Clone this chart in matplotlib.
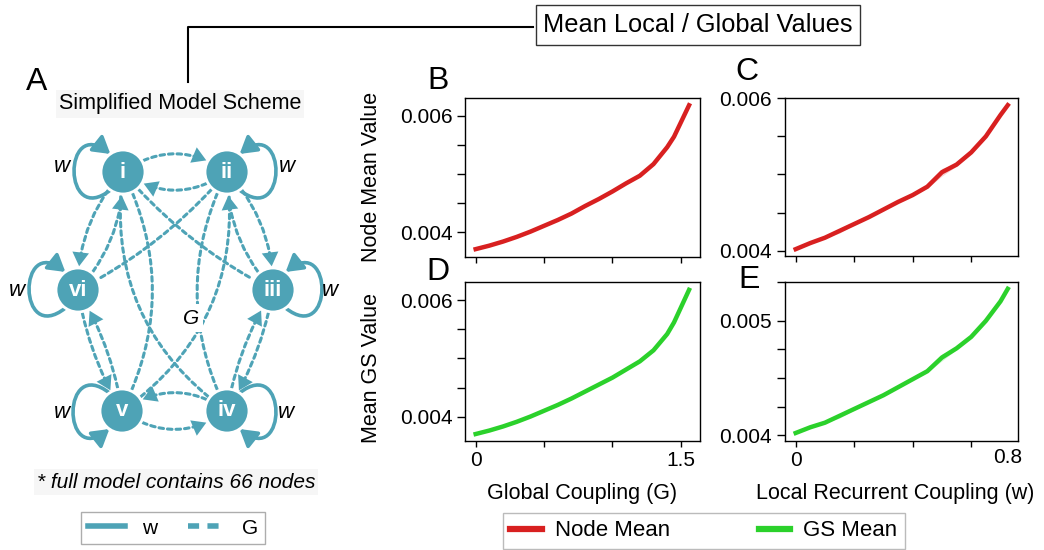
import numpy as np
import matplotlib
matplotlib.use('Agg')
import matplotlib.pyplot as plt
from matplotlib.patches import Circle, FancyArrowPatch
from matplotlib.path import Path
from matplotlib.lines import Line2D

plt.rcParams['font.family'] = ['Liberation Sans', 'DejaVu Sans']

# values
G_VALUES = [0, 0.1, 0.2, 0.3, 0.4, 0.5, 0.6, 0.7, 0.8, 0.9, 1.0, 1.1, 1.2, 1.3, 1.4, 1.45, 1.56]
NODE_MEAN_G = [0.00371, 0.00377, 0.00384, 0.00392, 0.00401, 0.00411, 0.00421, 0.00432, 0.00445,
               0.00457, 0.00470, 0.00484, 0.00497, 0.00517, 0.00546, 0.00564, 0.00618]
GS_MEAN_G = [0.00370, 0.00376, 0.00383, 0.00391, 0.00400, 0.00410, 0.00420, 0.00431, 0.00443,
             0.00455, 0.00467, 0.00481, 0.00495, 0.00514, 0.00542, 0.00562, 0.00618]

W_VALUES = [0, 0.05, 0.1, 0.15, 0.2, 0.25, 0.3, 0.35, 0.4, 0.45, 0.5, 0.55, 0.6, 0.65, 0.7, 0.725]
NODE_MEAN_W = [0.00402, 0.00410, 0.00417, 0.00426, 0.00435, 0.00444, 0.00454, 0.00464, 0.00473,
               0.00484, 0.00503, 0.00513, 0.00529, 0.00550, 0.00578, 0.00591]
NODE_SEM_W = [0, 0, 0, 0.00003, 0.00001, 0, 0, 0, 0, 0.00002, 0.00005, 0.00002, 0, 0, 0, 0]
GS_MEAN_W = [0.00402, 0.00407, 0.00411, 0.00417, 0.00423, 0.00429, 0.00435, 0.00442, 0.00449,
             0.00456, 0.00468, 0.00476, 0.00486, 0.00500, 0.00517, 0.00528]
GS_SEM_W = [0, 0, 0, 0.00002, 0.00001, 0, 0, 0, 0, 0.00001, 0.00003, 0.00001, 0, 0, 0, 0]

RED = '#d82020'
GREEN = '#2bd12b'
TEAL = '#4ea3b6'

# scheme layout (pixel units of the overlay axes)
R = 22
NODES = {'i': (123, 172), 'ii': (227, 172), 'iii': (273, 290),
         'iv': (227, 411), 'v': (122, 411), 'vi': (78, 290)}
LOOPS = {'i': (-1, 'top'), 'ii': (1, 'top'), 'iii': (1, 'top'),
         'vi': (-1, 'top'), 'v': (-1, 'bottom'), 'iv': (1, 'bottom')}
W_LABELS = [(62, 167), (287, 167), (17, 290), (330, 290), (62, 413), (286, 413)]
EDGES = [('i', 'ii', -0.35), ('ii', 'i', -0.35),
         ('iv', 'v', 0.35), ('v', 'iv', 0.35),
         ('i', 'vi', 0.2), ('vi', 'i', 0.2),
         ('ii', 'iii', -0.2), ('iii', 'ii', -0.2),
         ('vi', 'v', 0.1), ('v', 'vi', 0.1),
         ('iii', 'iv', -0.1), ('iv', 'iii', -0.1)]
LONG_EDGES = [('i', 'v', -0.25), ('ii', 'iv', 0.25), ('v', 'ii', 0.3), ('iv', 'i', -0.3),
              ('i', 'iii', 0.1), ('ii', 'vi', -0.1)]

HEAD = '-|>,head_length=0.5,head_width=0.3'
DASH = (0, (1.5, 1.3))

fig = plt.figure(figsize=(10.44, 5.5), dpi=100)

ax0 = fig.add_axes([0, 0, 1, 1])
ax0.set_xlim(0, 1044)
ax0.set_ylim(550, 0)
ax0.axis('off')

circles = {}
for name, (cx, cy) in NODES.items():
    c = Circle((cx, cy), R, facecolor=TEAL, edgecolor='white', lw=2, zorder=4)
    ax0.add_patch(c)
    circles[name] = c
    ax0.text(cx, cy, name, color='white', fontsize=16, fontweight='bold',
             ha='center', va='center', zorder=5)

for name, (side, tip) in LOOPS.items():
    cx, cy = NODES[name]
    a = np.radians(55)
    top = (cx + side * R * np.cos(a), cy - R * np.sin(a))
    bot = (cx + side * R * np.cos(a), cy + R * np.sin(a))
    c_top = (top[0] + side * 48, top[1] - 38)
    c_bot = (bot[0] + side * 48, bot[1] + 38)
    if tip == 'top':
        verts = [bot, c_bot, c_top, top]
    else:
        verts = [top, c_top, c_bot, bot]
    path = Path(verts, [Path.MOVETO, Path.CURVE4, Path.CURVE4, Path.CURVE4])
    ax0.add_patch(FancyArrowPatch(path=path, arrowstyle=HEAD, mutation_scale=20,
                                  color=TEAL, lw=2.6, zorder=3))

for a, b, rad in EDGES:
    style = 'arc3,rad=%s' % rad
    # dashed body
    ax0.add_patch(FancyArrowPatch(NODES[a], NODES[b], patchA=circles[a], patchB=circles[b],
                                  connectionstyle=style, arrowstyle='-',
                                  color=TEAL, lw=2.2, linestyle=DASH,
                                  shrinkA=2, shrinkB=10, zorder=2))
    # solid filled head only
    ax0.add_patch(FancyArrowPatch(NODES[a], NODES[b], patchA=circles[a], patchB=circles[b],
                                  connectionstyle=style, arrowstyle=HEAD, mutation_scale=20,
                                  facecolor=TEAL, edgecolor='none', lw=0,
                                  shrinkA=2, shrinkB=2, zorder=2))
for a, b, rad in LONG_EDGES:
    ax0.add_patch(FancyArrowPatch(NODES[a], NODES[b], patchA=circles[a], patchB=circles[b],
                                  connectionstyle='arc3,rad=%s' % rad, arrowstyle='-',
                                  color=TEAL, lw=2.2, linestyle=DASH,
                                  shrinkA=2, shrinkB=2, zorder=2))

for x, y in W_LABELS:
    ax0.text(x, y, 'w', fontsize=16, style='italic', ha='center', va='center')
ax0.text(191, 318, 'G', fontsize=15, style='italic', ha='center', va='center',
         bbox=dict(boxstyle='square,pad=0.2', fc='white', ec='none'), zorder=3)

ax0.text(180, 104, 'Simplified Model Scheme', fontsize=15.5, ha='center', va='center',
         bbox=dict(boxstyle='square,pad=0.15', fc='#f6f6f6', ec='none'))
ax0.text(176, 482, '* full model contains 66 nodes', fontsize=15, style='italic',
         ha='center', va='center',
         bbox=dict(boxstyle='square,pad=0.15', fc='#f6f6f6', ec='none'))

# bracket to the title box
ax0.plot([188, 188, 533], [82, 27, 27], color='black', lw=1.5)
ax0.text(698, 25, 'Mean Local / Global Values', fontsize=18.3, ha='center', va='center',
         bbox=dict(boxstyle='square,pad=0.3', fc='white', ec='#333333', lw=1))

for letter, x, y in [('A', 37, 82), ('B', 438, 81), ('C', 747, 72), ('D', 438, 272), ('E', 749, 280)]:
    ax0.text(x, y, letter, fontsize=23, ha='center', va='center')

scheme_handles = [Line2D([], [], color=TEAL, lw=4, label='w'),
                  Line2D([], [], color=TEAL, lw=4, linestyle=(0, (2, 1.5)), label='G')]
ax0.legend(handles=scheme_handles, loc='center', bbox_to_anchor=(173 / 1044, 1 - 528 / 550),
           ncol=2, fontsize=15, frameon=True, fancybox=False, edgecolor='#999999',
           handlelength=1.8, columnspacing=1.5, borderpad=0.3)

# data panels
ax_b = fig.add_axes([465 / 1044, 1 - 256.7 / 550, 235 / 1044, 159 / 550])
ax_d = fig.add_axes([465 / 1044, 1 - 441 / 550, 235 / 1044, 158.7 / 550])
ax_c = fig.add_axes([784.7 / 1044, 1 - 256 / 550, 233.6 / 1044, 158.3 / 550])
ax_e = fig.add_axes([784.7 / 1044, 1 - 441 / 550, 233.6 / 1044, 158.7 / 550])

ax_b.plot(G_VALUES, NODE_MEAN_G, color=RED, lw=3.2, label='Node Mean')
ax_d.plot(G_VALUES, GS_MEAN_G, color=GREEN, lw=3.2, label='GS Mean')

nm = np.array(NODE_MEAN_W)
ns = np.array(NODE_SEM_W)
ax_c.fill_between(W_VALUES, nm - ns, nm + ns, color=RED, alpha=0.2, lw=0)
ax_c.plot(W_VALUES, NODE_MEAN_W, color=RED, lw=3.2)
gm = np.array(GS_MEAN_W)
gs = np.array(GS_SEM_W)
ax_e.fill_between(W_VALUES, gm - gs, gm + gs, color=GREEN, alpha=0.2, lw=0)
ax_e.plot(W_VALUES, GS_MEAN_W, color=GREEN, lw=3.2)

for ax in [ax_b, ax_d]:
    ax.set_xlim(-0.078, 1.64)
    ax.set_ylim(0.00358, 0.00631)
    ax.set_yticks([0.004, 0.0045, 0.005, 0.0055, 0.006])
    ax.set_yticklabels(['0.004', '', '', '', '0.006'])
    ax.set_xticks([0, 0.5, 1.0, 1.5])
for ax in [ax_c, ax_e]:
    ax.set_xlim(-0.0376, 0.761)
    ax.set_xticks([0, 0.2, 0.4, 0.6])
ax_c.set_ylim(0.00393, 0.006008)
ax_c.set_yticks([0.004, 0.0045, 0.005, 0.0055, 0.006])
ax_c.set_yticklabels(['0.004', '', '', '', '0.006'])
ax_e.set_ylim(0.00395, 0.005337)
ax_e.set_yticks([0.004, 0.00425, 0.0045, 0.00475, 0.005, 0.005337])
ax_e.set_yticklabels(['0.004', '', '', '', '0.005', ''])

for ax in [ax_b, ax_c, ax_d, ax_e]:
    for sp in ax.spines.values():
        sp.set_linewidth(1)
    ax.tick_params(axis='y', length=6, width=1, labelsize=15, pad=3)
    ax.tick_params(axis='x', length=4, width=1, labelsize=15, pad=3)

ax_b.set_xticklabels([])
ax_c.set_xticklabels([])
ax_d.set_xticklabels(['0', '', '', '1.5'])
ax_e.set_xticklabels(['0', '', '', ''])
ax_e.annotate('0.8', xy=(W_VALUES[-1], -0.107), xycoords=('data', 'axes fraction'),
              fontsize=15, ha='center', va='center')

ax_b.set_ylabel('Node Mean Value', fontsize=15.5)
ax_b.yaxis.set_label_coords(-0.355, 0.5)
ax_d.set_ylabel('Mean GS Value', fontsize=15.5)
ax_d.yaxis.set_label_coords(-0.355, 0.46)
ax_d.set_xlabel('Global Coupling (G)', fontsize=15.5)
ax_d.xaxis.set_label_coords(0.5, -0.265)
ax_e.set_xlabel('Local Recurrent Coupling (w)', fontsize=15.5)
ax_e.xaxis.set_label_coords(0.472, -0.265)

line_handles = [Line2D([], [], color=RED, lw=4.5, label='Node Mean'),
                Line2D([], [], color=GREEN, lw=4.5, label='GS Mean')]
fig.legend(handles=line_handles, loc='center', bbox_to_anchor=(704 / 1044, 1 - 531 / 550),
           ncol=2, fontsize=16, frameon=True, fancybox=False, edgecolor='#aaaaaa',
           handlelength=1.4, handletextpad=0.6, columnspacing=4.0, borderpad=0.35,
           borderaxespad=0)

fig.savefig('out.png', dpi=100)
